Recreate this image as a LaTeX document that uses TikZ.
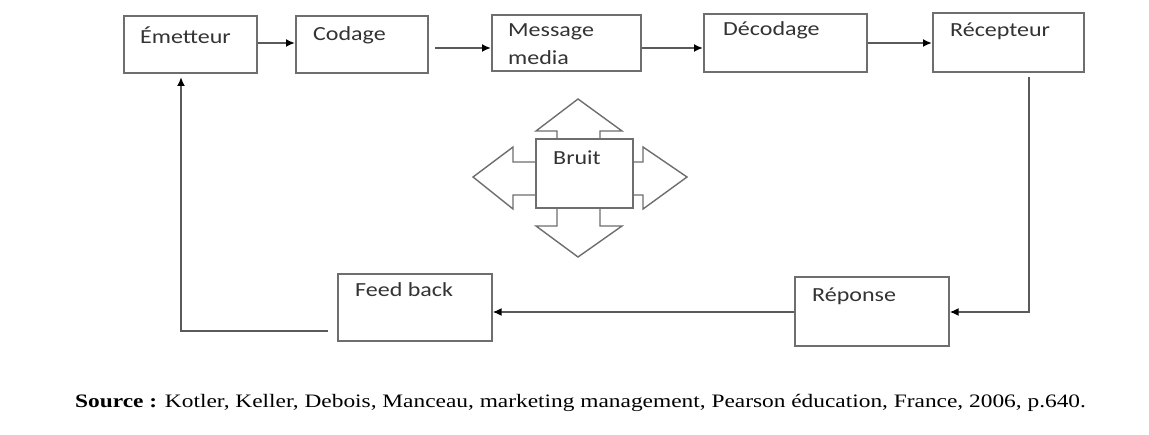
\documentclass[tikz,border=0pt]{standalone}
\usepackage{graphicx}
\usepackage{fontspec}
\setmainfont{Liberation Serif}
\newfontfamily\boxfont{Carlito}
\usetikzlibrary{arrows.meta}
\definecolor{edgegray}{HTML}{6E6E6E}
\definecolor{linegray}{HTML}{5A5A5A}
% horizontally widened text
\newcommand{\widetxt}[2]{\scalebox{#1}[1]{#2}}
\tikzset{
  stepbox/.style={draw=edgegray, line width=1.6pt, fill=white, anchor=north west, inner sep=0pt},
  lbl/.style={anchor=west, inner sep=0pt, text=black!80, font=\boxfont\fontsize{20}{23}\selectfont},
  flow/.style={draw=linegray, line width=2pt, -{Latex[length=9pt,width=8pt,black]}},
  noise/.style={draw=edgegray, line width=1.4pt, fill=white, line join=miter},
}
\begin{document}
\begin{tikzpicture}[x=1pt,y=-1pt]
\useasboundingbox[fill=white] (0,0) rectangle (1149,435);

% top chain of boxes
\node[stepbox, minimum width=133pt, minimum height=57pt] (em)  at (123,15) {};
\node[stepbox, minimum width=132pt, minimum height=57pt] (cod) at (295,15) {};
\node[stepbox, minimum width=149pt, minimum height=56pt] (msg) at (491,14) {};
\node[stepbox, minimum width=163pt, minimum height=58pt] (dec) at (703,13) {};
\node[stepbox, minimum width=151pt, minimum height=59pt] (rec) at (932,12) {};

% lower boxes
\node[stepbox, minimum width=154pt, minimum height=67pt] (fb)  at (337,273) {};
\node[stepbox, minimum width=154pt, minimum height=69pt] (rep) at (794,276) {};

% noise: four-way arrow behind the box
\draw[noise] (557,140) -- (557,131) -- (536,131) -- (578,99) -- (622,131) -- (600,131) -- (600,140);
\draw[noise] (557,205) -- (557,226) -- (536,226) -- (578,257) -- (622,226) -- (600,226) -- (600,205);
\draw[noise] (537,162) -- (513,162) -- (513,147) -- (473,177) -- (513,209) -- (513,195) -- (537,195);
\draw[noise] (630,162) -- (643,162) -- (643,147) -- (687,177) -- (643,209) -- (643,195) -- (630,195);
\node[stepbox, minimum width=97pt, minimum height=69pt] (br) at (535,138) {};

% labels
\node[lbl] (tem)  at (140,35) {\widetxt{1.2}{Émetteur}};
\node[lbl] (tcod) at (313,35) {\widetxt{1.2}{Codage}};
\node[lbl] (tmsg) at (508,32) {\widetxt{1.2}{Message}};
\node[lbl] (tmed) at (508,58) {\widetxt{1.2}{media}};
\node[lbl] (tdec) at (723,30) {\widetxt{1.2}{Décodage}};
\node[lbl] (trec) at (950,31) {\widetxt{1.2}{Récepteur}};
\node[lbl] (tbr)  at (553,158) {\widetxt{1.2}{Bruit}};
\node[lbl] (tfb)  at (355,290) {\widetxt{1.2}{Feed back}};
\node[lbl] (trep) at (812,296) {\widetxt{1.2}{Réponse}};

% connectors
\coordinate (c1) at (435,48);
\coordinate (c2) at (642,48);
\coordinate (d1) at (1029,77);
\coordinate (d2) at (1029,312);
\coordinate (f1) at (328,331);
\coordinate (f2) at (181,331);
\coordinate (f3) at (181,77);

\draw[flow] (em.east |- 0,43) -- (cod.west |- 0,43);
\draw[flow] (c1) -- (msg.west |- c1);
\draw[flow] (c2) -- (dec.west |- c2);
\draw[flow] (dec.east |- 0,43) -- (rec.west |- 0,43);
\draw[flow] (d1) -- (d2) -- (rep.east |- d2);
\draw[flow] (rep.west |- d2) -- (fb.east |- d2);
\draw[flow] (f1) -- (f2) -- (f3);

% source line
\node[anchor=west, inner sep=0pt, font=\fontsize{19}{21}\selectfont] (src) at (75,403)
  {\widetxt{1.23}{\textbf{Source :} Kotler, Keller, Debois, Manceau, marketing management, Pearson éducation, France, 2006, p.640.}};
\end{tikzpicture}
\end{document}
